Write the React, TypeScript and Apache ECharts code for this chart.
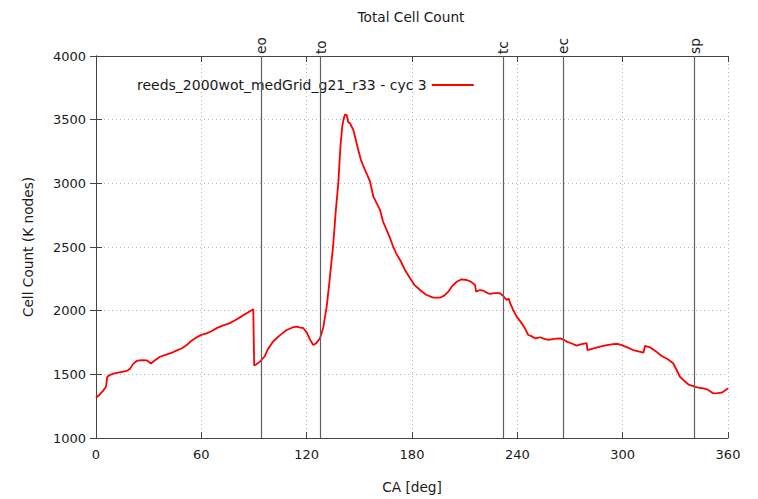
import React, { useEffect, useRef } from "react";
import * as echarts from "echarts";

// Crank angle samples [deg] and total cell count [K nodes]
const angles = [
  0, 2, 4, 5.7, 6.4, 8, 11, 15.6, 18, 19.5, 21, 23.2, 26, 28.9, 31.3, 34, 36.5, 40, 43, 46,
  49, 51.7, 54, 57.4, 60, 63, 66, 69, 72.5, 76, 80, 84, 87, 89.6, 90.1, 91, 93.4, 96, 98, 101,
  105, 108.6, 112, 114.3, 116, 118.1, 120, 122, 123.8, 125.5, 127.6, 129.5, 131.4, 133, 135.2,
  136.5, 138, 139.3, 140.3, 140.9, 141.8, 142.8, 143.7, 144.7, 146.6, 148, 149.4, 151, 153.2,
  154.7, 156.1, 158, 160, 161.8, 163.5, 165.6, 167.5, 169.3, 171, 173.2, 176, 178.9, 181.5,
  184.6, 188, 192.1, 196, 198.5, 200.7, 203, 205.5, 208, 211.2, 213.5, 215.9, 216.5, 218.7,
  220.6, 222.5, 224.4, 227, 230.1, 232, 233.9, 235, 236, 237.7, 239.6, 242, 244, 246.2, 248,
  250, 252.9, 255, 257.6, 261, 264.3, 266, 268.1, 271, 273.8, 276, 279.5, 279.9, 283, 287.1,
  291, 294.7, 297, 299.4, 303, 306, 309, 311.8, 312.7, 315.6, 319, 322.2, 325.5, 328.8, 330.5,
  332.6, 335, 337.5, 340.2, 343, 346, 348.5, 350, 351.5, 354, 356.4, 358, 360,
];

const cellCounts = [
  1316, 1340, 1370, 1403, 1481, 1495, 1510, 1521, 1530, 1545, 1580, 1605, 1612, 1610, 1585,
  1615, 1638, 1655, 1668, 1688, 1705, 1730, 1760, 1791, 1810, 1822, 1840, 1865, 1885, 1900,
  1930, 1965, 1990, 2011, 1570, 1575, 1600, 1640, 1700, 1760, 1810, 1848, 1868, 1874, 1868,
  1862, 1830, 1770, 1730, 1745, 1783, 1870, 2031, 2230, 2529, 2770, 3000, 3300, 3450, 3497,
  3540, 3537, 3480, 3471, 3419, 3340, 3262, 3180, 3105, 3060, 3013, 2895, 2840, 2791, 2700,
  2633, 2570, 2502, 2450, 2398, 2320, 2254, 2200, 2162, 2125, 2102, 2102, 2120, 2149, 2195,
  2227, 2245, 2241, 2228, 2202, 2149, 2162, 2157, 2142, 2131, 2138, 2137, 2115, 2084, 2095,
  2055, 2005, 1953, 1910, 1870, 1809, 1800, 1783, 1791, 1780, 1770, 1778, 1783, 1775, 1757,
  1742, 1725, 1735, 1745, 1691, 1702, 1717, 1730, 1738, 1740, 1730, 1710, 1691, 1680, 1670,
  1723, 1712, 1680, 1644, 1620, 1587, 1540, 1481, 1450, 1420, 1408, 1395, 1390, 1380, 1365,
  1351, 1352, 1356, 1370, 1390,
];

// Valve / spark events marked on the cycle
const eventNames = ["eo", "to", "tc", "ec", "sp"];
const eventAngles = [94, 128, 232, 266, 341];

const seriesName = "reeds_2000wot_medGrid_g21_r33 - cyc 3";

const FONT = "DejaVu Sans";
const TEXT = "#1a1a1a";
const BORDER = "#444444";

export default function App() {
  const ref = useRef<HTMLDivElement>(null);

  useEffect(() => {
    document.body.style.margin = "0";
    if (!ref.current) return;
    const chart = echarts.init(ref.current, null, { renderer: "svg" });

    const frameAxis = {
      type: "value" as const,
      axisLine: { show: true, lineStyle: { color: BORDER, width: 1 } },
      axisTick: { show: true, inside: true, length: 6, lineStyle: { color: BORDER } },
      axisLabel: { show: false },
      splitLine: { show: false },
    };

    const plain = (v: number) => String(v);

    chart.setOption({
      animation: false,
      backgroundColor: "#ffffff",
      title: {
        text: "Total Cell Count",
        left: 406,
        textAlign: "center",
        top: 5,
        textStyle: { fontFamily: FONT, fontSize: 13.7, fontWeight: "normal", color: TEXT },
      },
      legend: {
        left: 132,
        top: 73,
        align: "right",
        itemWidth: 42,
        itemHeight: 1.8,
        textStyle: { fontFamily: FONT, fontSize: 14, color: TEXT },
        data: [{ name: seriesName, icon: "rect" }],
      },
      grid: { left: 96, right: 30, top: 56, bottom: 61 },
      xAxis: [
        {
          type: "value",
          min: 0,
          max: 360,
          interval: 60,
          name: "CA [deg]",
          nameLocation: "middle",
          nameGap: 42,
          nameTextStyle: { fontFamily: FONT, fontSize: 13.7, color: TEXT },
          axisLine: { show: true, onZero: false, lineStyle: { color: BORDER, width: 1 } },
          axisTick: { show: true, inside: true, length: 6, lineStyle: { color: BORDER } },
          axisLabel: { margin: 10, fontFamily: FONT, fontSize: 13, color: TEXT, formatter: plain },
          splitLine: { show: true, lineStyle: { color: "#b4b4b4", type: [1, 3], width: 1 } },
        },
        { ...frameAxis, position: "top", min: 0, max: 360, interval: 60 },
      ],
      yAxis: [
        {
          type: "value",
          min: 1000,
          max: 4000,
          interval: 500,
          name: "Cell Count (K nodes)",
          nameLocation: "middle",
          nameGap: 61,
          nameTextStyle: { fontFamily: FONT, fontSize: 13.7, color: TEXT },
          axisLine: { show: true, onZero: false, lineStyle: { color: BORDER, width: 1 } },
          axisTick: { show: true, inside: true, length: 6, lineStyle: { color: BORDER } },
          axisLabel: { margin: 10, fontFamily: FONT, fontSize: 13, color: TEXT, formatter: plain },
          splitLine: { show: true, lineStyle: { color: "#b4b4b4", type: [1, 3], width: 1 } },
        },
        { ...frameAxis, position: "right", min: 1000, max: 4000, interval: 500 },
      ],
      series: [
        {
          name: seriesName,
          type: "line",
          xAxisIndex: 0,
          yAxisIndex: 0,
          symbol: "none",
          data: angles.map((a, i) => [a, cellCounts[i]]),
          lineStyle: { color: "#ff0000", width: 1.8 },
          itemStyle: { color: "#ff0000" },
          markLine: {
            silent: true,
            symbol: "none",
            label: { show: false },
            lineStyle: { color: "#606060", width: 1.2, type: "solid" },
            data: eventAngles.map((a) => ({ xAxis: a })),
          },
        },
      ],
    });

    // Event names sit just above the frame, rotated to run upward along each line
    const topY = chart.convertToPixel({ yAxisIndex: 0 }, 4000) as number;
    chart.setOption({
      graphic: eventAngles.map((a, i) => ({
        type: "text",
        x: chart.convertToPixel({ xAxisIndex: 0 }, a) as number,
        y: topY - 2,
        rotation: Math.PI / 2,
        style: {
          text: eventNames[i],
          fontFamily: FONT,
          fontSize: 13.7,
          fill: TEXT,
          align: "left",
          verticalAlign: "middle",
        },
      })),
    });

    return () => chart.dispose();
  }, []);

  return <div ref={ref} style={{ width: 758, height: 499 }} />;
}
